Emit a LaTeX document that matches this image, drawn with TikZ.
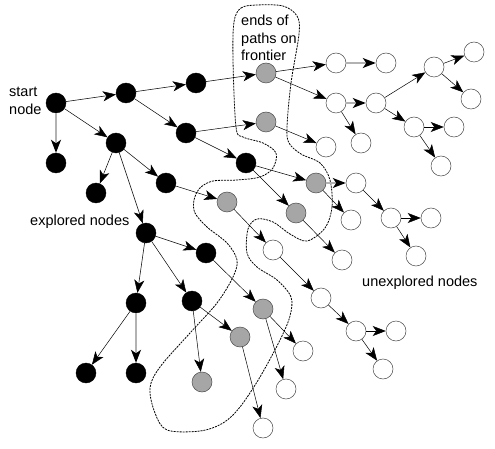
\documentclass[tikz,border=0pt]{standalone}
\usepackage{fontspec}
\setmainfont{Liberation Sans}
\usetikzlibrary{arrows.meta}

\begin{document}
\begin{tikzpicture}[x=1pt, y=-1pt]
  \def\nodesize{20pt}
  \tikzstyle{explored} = [circle, draw=black, fill=black, inner sep = 0pt, minimum size = \nodesize]
  \tikzstyle{frontier} = [circle, draw=black!70, fill=black!35, line width=0.5pt, inner sep = 0pt, minimum size = \nodesize]
  \tikzstyle{unexplored} = [circle, draw=black!70, fill=white, line width=0.5pt, inner sep = 0pt, minimum size = \nodesize]
  \tikzstyle{edge} = [line width=0.5pt, -{Stealth[length=13pt, width=10pt, inset=3.5pt]}]
  \tikzstyle{greyedge} = [draw=black!30, line width=1.3pt, -{Stealth[length=13pt, width=10pt, inset=3.5pt, color=black]}]
  \tikzstyle{caption} = [inner sep = 0pt, align=left, font=\fontsize{14.5pt}{17.5pt}\selectfont]

  \useasboundingbox (0,0) rectangle (495,449);

  % frontier outline
  \draw[line width=0.8pt, dash pattern=on 2pt off 1pt] plot[smooth cycle, tension=0.55] coordinates {
    (234,22) (241,8) (257,5) (283,6) (297,16) (299,34) (291,83) (287,127) (289,143)
    (301,154) (320,163) (330,180) (332,207) (325,228) (307,241) (290,234) (273,222)
    (257,219) (248,229) (247,253) (257,267) (277,280) (291,297) (290,316) (280,340)
    (260,377) (240,407) (223,423) (200,431) (167,430) (155,413) (150,388) (160,367)
    (190,333) (217,303) (233,277) (237,260) (227,243) (207,227) (195,213) (194,200)
    (200,188) (213,181) (237,180) (260,177) (273,168) (276,153) (263,143) (243,137)
    (236,127) (233,60)};

  % explored nodes
  \node[explored] (s) at (56,103) {};
  \node[explored] (e1) at (126,93) {};
  \node[explored] (e2) at (196,83) {};
  \node[explored] (e3) at (186,133) {};
  \node[explored] (e4) at (246,163) {};
  \node[explored] (e5) at (56,163) {};
  \node[explored] (e6) at (116,143) {};
  \node[explored] (e7) at (96,193) {};
  \node[explored] (e8) at (166,183) {};
  \node[explored] (e9) at (146,233) {};
  \node[explored] (e10) at (206,253) {};
  \node[explored] (e11) at (136,303) {};
  \node[explored] (e12) at (192,301) {};
  \node[explored] (e13) at (86,373) {};
  \node[explored] (e14) at (136,373) {};

  % ends of paths
  \node[frontier] (f1) at (266,73) {};
  \node[frontier] (f2) at (266,122) {};
  \node[frontier] (f3) at (316,183) {};
  \node[frontier] (f4) at (296,213) {};
  \node[frontier] (f5) at (227,202) {};
  \node[frontier] (f6) at (263,309) {};
  \node[frontier] (f7) at (240,337) {};
  \node[frontier] (f8) at (202,382) {};

  % unexplored nodes
  \node[unexplored] (u1) at (336,63) {};
  \node[unexplored] (u2) at (386,63) {};
  \node[unexplored] (u3) at (336,103) {};
  \node[unexplored] (u4) at (376,103) {};
  \node[unexplored] (u5) at (361,143) {};
  \node[unexplored] (u6) at (434,67) {};
  \node[unexplored] (u7) at (474,52) {};
  \node[unexplored] (u8) at (471,99) {};
  \node[unexplored] (u9) at (414,127) {};
  \node[unexplored] (u10) at (454,127) {};
  \node[unexplored] (u11) at (441,166) {};
  \node[unexplored] (u12) at (326,147) {};
  \node[unexplored] (u13) at (356,183) {};
  \node[unexplored] (u14) at (351,220) {};
  \node[unexplored] (u15) at (391,218) {};
  \node[unexplored] (u16) at (431,218) {};
  \node[unexplored] (u17) at (416,256) {};
  \node[unexplored] (u18) at (342,260) {};
  \node[unexplored] (u19) at (273,250) {};
  \node[unexplored] (u20) at (321,298) {};
  \node[unexplored] (u21) at (356,331) {};
  \node[unexplored] (u22) at (396,331) {};
  \node[unexplored] (u23) at (383,369) {};
  \node[unexplored] (u24) at (303,351) {};
  \node[unexplored] (u25) at (286,389) {};
  \node[unexplored] (u26) at (263,428) {};

  % labels
  \node[caption, anchor=west] (startlabel) at (9,101) {start\\node};
  \node[caption, anchor=west] (exploredlabel) at (30,222) {explored nodes};
  \node[caption, anchor=west] (unexploredlabel) at (362,283) {unexplored nodes};
  \node[caption, anchor=north west] (frontierlabel) at (241,15) {ends of\\paths on\\frontier};

  % edges
  \draw[edge] (s) -- (e1);
  \draw[greyedge] (s) -- (e5);
  \draw[edge] (s) -- (e6);
  \draw[edge] (e1) -- (e2);
  \draw[edge] (e1) -- (e3);
  \draw[edge] (e2) -- (f1);
  \draw[edge] (e3) -- (f2);
  \draw[edge] (e3) -- (e4);
  \draw[edge] (e4) -- (f3);
  \draw[edge] (e4) -- (f4);
  \draw[edge] (e6) -- (e7);
  \draw[edge] (e6) -- (e8);
  \draw[edge] (e6) -- (e9);
  \draw[edge] (e8) -- (f5);
  \draw[edge] (e9) -- (e10);
  \draw[edge] (e9) -- (e11);
  \draw[edge] (e9) -- (e12);
  \draw[edge] (e10) -- (f6);
  \draw[edge] (e11) -- (e13);
  \draw[greyedge] (e11) -- (e14);
  \draw[edge] (e12) -- (f8);
  \draw[edge] (e12) -- (f7);

  \draw[edge] (f1) -- (u1);
  \draw[edge] (f1) -- (u3);
  \draw[greyedge] (u1) -- (u2);
  \draw[greyedge] (u3) -- (u4);
  \draw[edge] (u3) -- (u5);
  \draw[edge] (u4) -- (u6);
  \draw[edge] (u4) -- (u9);
  \draw[edge] (u6) -- (u7);
  \draw[edge] (u6) -- (u8);
  \draw[edge] (u9) -- (u10);
  \draw[edge] (u9) -- (u11);
  \draw[edge] (f2) -- (u12);
  \draw[greyedge] (f3) -- (u13);
  \draw[edge] (f3) -- (u14);
  \draw[edge] (u13) -- (u15);
  \draw[edge] (u15) -- (u16);
  \draw[edge] (u15) -- (u17);
  \draw[edge] (f4) -- (u18);
  \draw[edge] (f5) -- (u19);
  \draw[edge] (u19) -- (u20);
  \draw[edge] (u20) -- (u21);
  \draw[edge] (u21) -- (u22);
  \draw[edge] (u21) -- (u23);
  \draw[edge] (f6) -- (u24);
  \draw[edge] (f6) -- (u25);
  \draw[edge] (f7) -- (u26);

\end{tikzpicture}
\end{document}
